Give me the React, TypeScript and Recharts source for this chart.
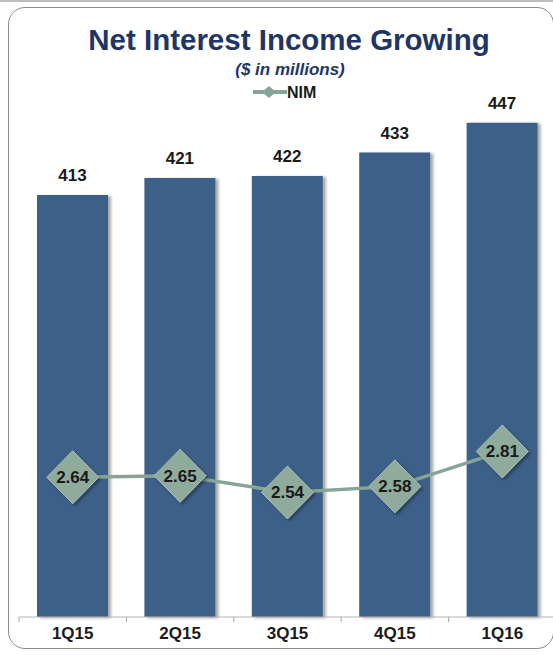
import React from 'react';
import {
  ComposedChart,
  Bar,
  Line,
  XAxis,
  YAxis,
  LabelList,
} from 'recharts';

const quarters = ['1Q15', '2Q15', '3Q15', '4Q15', '1Q16'];
const netInterestIncome = [413, 421, 422, 433, 447];
const nim = [2.64, 2.65, 2.54, 2.58, 2.81];

const data = quarters.map((q, i) => ({
  quarter: q,
  nii: netInterestIncome[i],
  nim: nim[i],
}));

const CHART_W = 570;
const CHART_H = 655;
const MARGIN = { top: 55, right: 14, bottom: 8, left: 19 };
const BAND = (CHART_W - MARGIN.left - MARGIN.right) / quarters.length;
const AXIS_Y = CHART_H - MARGIN.bottom - 30;

const FONT = '"Liberation Sans", Arial, sans-serif';
const NAVY = '#1f3565';
const BAR_BLUE = '#3e6089';
const NIM_GREEN = '#87a596';
const DIAMOND = '#8fab9c';

function QuarterTick(props: any) {
  const { x, y, payload } = props;
  return (
    <g>
      <line x1={x - BAND / 2} y1={AXIS_Y} x2={x - BAND / 2} y2={AXIS_Y + 5} stroke="#a8a8a8" />
      <text
        x={x}
        y={y + 12}
        textAnchor="middle"
        fontFamily={FONT}
        fontWeight="bold"
        fontSize={17}
        fill="#1a1a1a"
      >
        {payload.value}
      </text>
    </g>
  );
}

function DiamondDot(props: any) {
  const { cx, cy, value } = props;
  if (cx == null || cy == null) return null;
  const w = 26;
  const h = 26.5;
  return (
    <g>
      <polygon
        points={`${cx},${cy - h} ${cx + w},${cy} ${cx},${cy + h} ${cx - w},${cy}`}
        fill={DIAMOND}
        stroke="#a9c0b3"
        strokeWidth={1}
        filter="url(#softShadow)"
      />
      <text
        x={cx}
        y={cy + 6}
        textAnchor="middle"
        fontFamily={FONT}
        fontWeight="bold"
        fontSize={17}
        fill="#1a1a1a"
      >
        {value.toFixed(2)}
      </text>
    </g>
  );
}

export default function App() {
  return (
    <div
      style={{
        position: 'absolute',
        left: 0,
        top: 0,
        width: 553,
        height: 655,
        overflow: 'hidden',
        background: '#fff',
      }}
    >
      <div style={{ position: 'absolute', left: 0, top: 0, width: 553, height: 2, background: '#bdbdbd' }} />
      <div
        style={{
          position: 'absolute',
          left: 8,
          top: 7,
          width: 544,
          height: 640,
          border: '1.5px solid #8c8c8c',
          borderRadius: 17,
        }}
      />
      <div style={{ position: 'absolute', left: 0, top: 0, width: CHART_W, height: CHART_H }}>
        <ComposedChart width={CHART_W} height={CHART_H} data={data} margin={MARGIN}>
          <defs>
            <filter id="barShadow" x="-10%" y="-5%" width="130%" height="110%">
              <feDropShadow dx={3} dy={1} stdDeviation={1.5} floodColor="#000" floodOpacity={0.35} />
            </filter>
            <filter id="softShadow" x="-30%" y="-30%" width="160%" height="160%">
              <feDropShadow dx={2} dy={2} stdDeviation={1.5} floodColor="#000" floodOpacity={0.35} />
            </filter>
          </defs>
          <XAxis
            dataKey="quarter"
            axisLine={{ stroke: '#b3b3b3' }}
            tickLine={false}
            tickSize={5}
            tickMargin={5}
            tick={<QuarterTick />}
            height={30}
          />
          <YAxis yAxisId="left" hide domain={[214, 479]} />
          <YAxis yAxisId="right" hide domain={[1.72, 5.42]} />
          <Bar
            yAxisId="left"
            dataKey="nii"
            fill={BAR_BLUE}
            barSize={71}
            filter="url(#barShadow)"
            isAnimationActive={false}
          >
            <LabelList
              dataKey="nii"
              position="top"
              offset={14}
              fontFamily={FONT}
              fontWeight="bold"
              fontSize={17}
              fill="#1a1a1a"
            />
          </Bar>
          <Line
            yAxisId="right"
            dataKey="nim"
            type="linear"
            stroke={NIM_GREEN}
            strokeWidth={3.5}
            dot={<DiamondDot />}
            activeDot={false}
            isAnimationActive={false}
          />
        </ComposedChart>
      </div>
      <svg
        width={553}
        height={655}
        style={{ position: 'absolute', left: 0, top: 0, pointerEvents: 'none' }}
      >
        <text x={289} y={50} textAnchor="middle" fontFamily={FONT} fontWeight="bold" fontSize={29.5} fill={NAVY}>
          Net Interest Income Growing
        </text>
        <text
          x={290}
          y={75}
          textAnchor="middle"
          fontFamily={FONT}
          fontWeight="bold"
          fontStyle="italic"
          fontSize={17}
          fill={NAVY}
        >
          ($ in millions)
        </text>
        <line x1={253} y1={92} x2={287} y2={92} stroke={NIM_GREEN} strokeWidth={4} />
        <polygon points="269,86 276,92 269,98 262,92" fill={NIM_GREEN} />
        <text x={287} y={98} fontFamily={FONT} fontWeight="bold" fontSize={16} fill="#1a1a1a">
          NIM
        </text>
      </svg>
    </div>
  );
}
